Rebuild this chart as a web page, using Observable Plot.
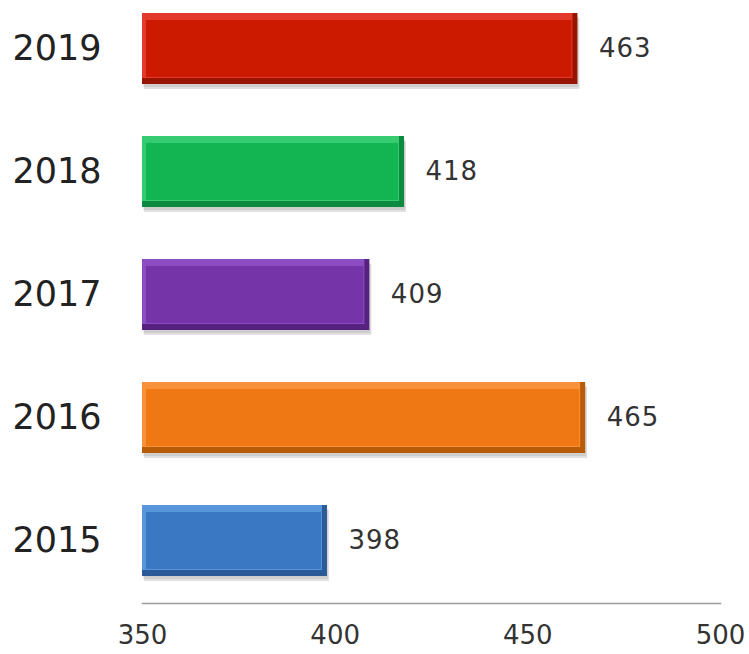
<!DOCTYPE html>
<html>
<head>
<meta charset="utf-8">
<script src="https://cdn.jsdelivr.net/npm/d3@7"></script>
<script src="https://cdn.jsdelivr.net/npm/@observablehq/plot@0.6"></script>
<style>
  html, body { margin: 0; padding: 0; background: #fff; }
</style>
</head>
<body>
<div id="chart"></div>
<script>
const years = ["2019", "2018", "2017", "2016", "2015"];
const values = [463, 418, 409, 465, 398];
const faceColors = ["#CC1A00", "#12B552", "#7534A8", "#F07814", "#3A78C4"];
const lightColors = ["#E2392A", "#36CB70", "#8C4CC2", "#F8923A", "#5896DC"];
const darkColors = ["#991400", "#0C8A40", "#57227F", "#B95C0A", "#2A5B98"];
const xTicks = [350, 400, 450, 500];
const xMin = 350, xMax = 500;

const data = years.map((year, i) => ({
  year,
  value: values[i],
  face: faceColors[i],
  light: lightColors[i],
  dark: darkColors[i]
}));

const base = d => xMin;

const plot = Plot.plot({
  width: 749,
  height: 654,
  marginLeft: 142,
  marginRight: 29,
  marginTop: 12,
  marginBottom: 77,
  style: { fontFamily: "DejaVu Sans", background: "#fff" },
  x: { domain: [xMin, xMax], ticks: xTicks },
  y: { domain: years, paddingInner: 0.42, paddingOuter: 0 },
  color: { type: "identity" },
  marks: [
    Plot.barX(data, { x1: base, x2: "value", y: "year", fill: "#000", fillOpacity: 0.12, dx: 2, dy: 5, ariaLabel: "shadow" }),
    Plot.barX(data, { x1: base, x2: "value", y: "year", fill: "#000", fillOpacity: 0.08, dx: 1, dy: 3 }),
    Plot.barX(data, { x1: base, x2: "value", y: "year", fill: "dark" }),
    Plot.barX(data, { x1: base, x2: "value", y: "year", fill: "light", insetRight: 5, insetBottom: 6 }),
    Plot.barX(data, { x1: base, x2: "value", y: "year", fill: "face", insetTop: 7, insetBottom: 7, insetLeft: 4, insetRight: 6 }),
    Plot.frame({ anchor: "bottom", stroke: "#9a9a9a", strokeWidth: 1.5, dy: 26 }),
    Plot.axisX({ ticks: xTicks, tickSize: 0, tickPadding: 48, fontSize: 26, fill: "#333", label: null }),
    Plot.axisY({ tickSize: 0, tickPadding: 41, fontSize: 35, fill: "#222", label: null }),
    Plot.text(data, { x: "value", y: "year", text: d => String(d.value), dx: 21, textAnchor: "start", fontSize: 26, fill: "#333" })
  ]
});

const svgNS = "http://www.w3.org/2000/svg";
const svg = plot.tagName.toLowerCase() === "svg" ? plot : plot.querySelector("svg");
const defs = document.createElementNS(svgNS, "defs");
const filter = document.createElementNS(svgNS, "filter");
filter.setAttribute("id", "softshadow");
filter.setAttribute("x", "-20%");
filter.setAttribute("y", "-40%");
filter.setAttribute("width", "140%");
filter.setAttribute("height", "180%");
const blur = document.createElementNS(svgNS, "feGaussianBlur");
blur.setAttribute("stdDeviation", "3");
filter.appendChild(blur);
defs.appendChild(filter);
svg.insertBefore(defs, svg.firstChild);
svg.querySelectorAll('g[aria-label="shadow"] rect').forEach(r => r.setAttribute("filter", "url(#softshadow)"));
svg.querySelectorAll('g[aria-label="text"] text').forEach(t => t.setAttribute("letter-spacing", "1"));

document.getElementById("chart").appendChild(plot);
</script>
</body>
</html>
